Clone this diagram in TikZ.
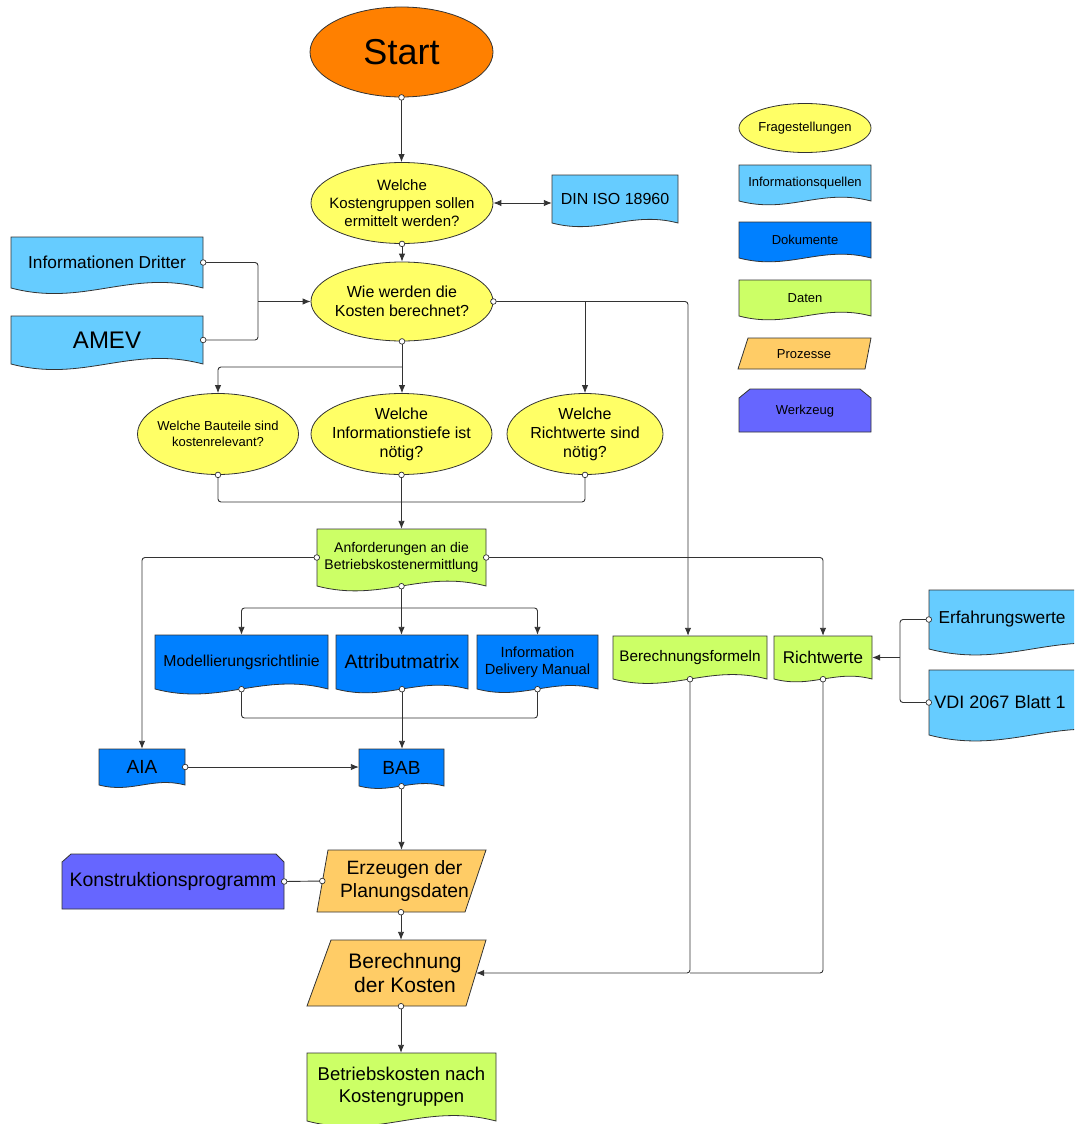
\documentclass[tikz,border=0pt]{standalone}
\usepackage{fontspec}
\setmainfont{Liberation Sans}
\usetikzlibrary{shapes.geometric,arrows.meta,calc}

\definecolor{cStart}{HTML}{FF8000}
\definecolor{cQ}{HTML}{FFFF66}
\definecolor{cInfo}{HTML}{66CCFF}
\definecolor{cDok}{HTML}{0080FF}
\definecolor{cDat}{HTML}{CCFF66}
\definecolor{cProz}{HTML}{FFCC66}
\definecolor{cWerk}{HTML}{6666FF}
\definecolor{cLine}{HTML}{333333}

\newcommand\fs[1]{\pgfmathsetmacro\mybls{#1*1.18}\fontsize{#1}{\mybls}\selectfont}

\tikzset{
  outl/.style={draw=cLine, line width=0.8pt},
  txt/.style={draw=none, inner sep=0pt, align=center, text=black},
  qell/.style={ellipse, outl, fill=cQ, inner xsep=-40pt, inner ysep=-20pt, align=center, text=black},
  conn/.style={draw=cLine, line width=0.9pt, rounded corners=3pt},
  arr/.style={-{Latex[length=8pt,width=6.5pt]}},
  dbl/.style={{Latex[length=8pt,width=6.5pt]}-{Latex[length=8pt,width=6.5pt]}},
}

% document shape: name, x0, y0, x1, b, fill, fontsize, text
\newcommand\docnode[8]{%
  \pgfmathsetmacro\dw{#4-#2}%
  \pgfmathsetmacro\dh{#5-#3}%
  \pgfmathsetmacro\da{0.1*\dw}%
  \draw[outl, fill=#6] (#2,#3) -- (#4,#3) -- (#4,#5)
     .. controls ({#2+0.62*\dw},{#5-\da}) and ({#2+0.38*\dw},{#5+\da}) .. (#2,#5) -- cycle;
  \node[txt, font=\fs{#7}, minimum width=\dw pt, minimum height=\dh pt] (#1) at ({(#2+#4)/2},{(#3+#5)/2}) {#8};
}
\newcommand\dotat[1]{\draw[draw=cLine, fill=white, line width=0.7pt] (#1) circle (2.8pt);}

\begin{document}
\begin{tikzpicture}[x=1pt,y=-1pt]
\useasboundingbox (0,0) rectangle (1074,1124);
\clip (0,0) rectangle (1074,1124);

% ---------- legend ----------
\node[qell, minimum width=132pt, minimum height=49pt, font=\fs{13}] (lq) at (805,128) {Fragestellungen};
\docnode{li}{739}{165}{871}{201}{cInfo}{13}{Informationsquellen}
\docnode{ld}{739}{222}{871}{258}{cDok}{13}{Dokumente}
\docnode{lda}{739}{280}{871}{316}{cDat}{13}{Daten}
\draw[outl, fill=cProz] (748,338) -- (871,338) -- (865,369) -- (738,369) -- cycle;
\node[txt, font=\fs{13}] (lp) at (804,354) {Prozesse};
\draw[outl, fill=cWerk] (739,398) -- (750,389) -- (860,389) -- (871,398) -- (871,432) -- (739,432) -- cycle;
\node[txt, font=\fs{13}] (lw) at (805,411) {Werkzeug};

% ---------- main nodes ----------
\node[ellipse, outl, fill=cStart, minimum width=183pt, minimum height=90pt, inner sep=0pt, font=\fs{36}] (start) at (401.5,52) {Start};

\node[qell, minimum width=182pt, minimum height=81pt, font=\fs{15}] (q1) at (402,203) {Welche\\Kostengruppen sollen\\ermittelt werden?};
\docnode{din}{552}{175}{678}{223}{cInfo}{16}{DIN ISO 18960}

\node[qell, minimum width=182pt, minimum height=79pt, font=\fs{16}] (q2) at (402,301.5) {Wie werden die\\Kosten berechnet?};
\docnode{infod}{11}{237}{203}{288}{cInfo}{17.3}{Informationen Dritter}
\docnode{amev}{11}{316}{203}{364}{cInfo}{24}{AMEV}

\node[qell, minimum width=161pt, minimum height=81pt, font=\fs{13}] (q3) at (218,434) {Welche Bauteile sind\\kostenrelevant?};
\node[qell, minimum width=181pt, minimum height=81pt, font=\fs{16}] (q4) at (401.5,434) {Welche\\Informationstiefe ist\\nötig?};
\node[qell, minimum width=156pt, minimum height=81pt, font=\fs{16}] (q5) at (585,434) {Welche\\Richtwerte sind\\nötig?};

\docnode{anf}{317}{529}{486}{586}{cDat}{14}{Anforderungen an die\\Betriebskostenermittlung}

\docnode{mod}{155}{635}{328}{689}{cDok}{15.8}{Modellierungsrichtlinie}
\docnode{attr}{336}{635}{468}{689}{cDok}{19.5}{Attributmatrix}
\docnode{idm}{477}{635}{598}{689}{cDok}{14.7}{Information\\Delivery Manual}

\docnode{berf}{613}{636}{767}{679}{cDat}{15.3}{Berechnungsformeln}
\docnode{rw}{774}{636}{872}{679}{cDat}{17}{Richtwerte}
\docnode{erf}{929}{590}{1135}{649}{cInfo}{17.3}{\hspace*{-60pt}Erfahrungswerte}
\docnode{vdi}{929}{670}{1135}{735}{cInfo}{18}{\hspace*{-64pt}VDI 2067 Blatt 1}

\docnode{aia}{99}{749}{185}{785}{cDok}{19}{AIA}
\docnode{bab}{359}{749}{444}{786}{cDok}{19}{BAB}

\draw[outl, fill=cWerk] (62,862) -- (71,854) -- (276,854) -- (284,862) -- (284,909) -- (62,909) -- cycle;
\node[txt, minimum width=222pt, minimum height=55pt, font=\fs{19.5}] (kp) at (173,881.5) {Konstruktionsprogramm};

\draw[outl, fill=cProz] (328,850) -- (486,850) -- (465,912) -- (317,912) -- cycle;
\node[txt, minimum width=157pt, minimum height=62pt, font=\fs{19.3}] (erz) at (401,881) {\hspace*{7pt}Erzeugen der\\\hspace*{7pt}Planungsdaten};

\draw[outl, fill=cProz] (331,940) -- (486,940) -- (466,1006) -- (307,1006) -- cycle;
\node[txt, minimum width=150pt, minimum height=66pt, font=\fs{21}] (ber) at (401,973) {\hspace*{8pt}Berechnung\\\hspace*{8pt}der Kosten};

\docnode{bk}{307}{1053}{496}{1121}{cDat}{18.5}{Betriebskosten nach\\Kostengruppen}

% ---------- junction coordinates ----------
\coordinate (j1) at (258,0);
\coordinate (j2) at (688,0);
\coordinate (j3) at (0,367);
\coordinate (j4) at (0,502);
\coordinate (j5) at (0,608);
\coordinate (j6) at (0,718);
\coordinate (j7) at (900,0);

% ---------- connectors ----------
\draw[conn, arr] (start.south) -- (start.south |- q1.north);
\draw[conn, dbl] (q1.east) -- (q1.east -| din.west);
\draw[conn, arr] (q1.south) -- (q1.south |- q2.north);

\draw[conn] (infod.east) -| (j1 |- q2.west);
\draw[conn] (amev.east) -| (j1 |- q2.west);
\draw[conn, arr] (j1 |- q2.west) -- (q2.west);

\draw[conn, arr] (q2.east) -| (j2 |- berf.north);
\draw[conn, arr] (q2.east -| q5.north) -- (q5.north);
\draw[conn, arr] (q2.south) -- (q2.south |- q4.north);
\draw[conn, arr] (q2.south |- j3) -| (q3.north);

\draw[conn] (q3.south) |- (q4.south |- j4);
\draw[conn] (q5.south) |- (q4.south |- j4);
\draw[conn, arr] (q4.south) -- (q4.south |- anf.north);

\draw[conn, arr] (anf.west) -| (aia.north);
\draw[conn, arr] (anf.east) -| (rw.north);
\draw[conn, arr] (anf.south) -- (anf.south |- attr.north);
\draw[conn, arr] (anf.south |- j5) -| (mod.north);
\draw[conn, arr] (anf.south |- j5) -| (idm.north);

\draw[conn] (mod.south) |- (attr.south |- j6);
\draw[conn] (idm.south) |- (attr.south |- j6);
\draw[conn, arr] (attr.south) -- (attr.south |- bab.north);

\draw[conn, arr] (aia.east) -- (aia.east -| bab.west);
\draw[conn, arr] (bab.south) -- (bab.south |- erz.north);
\draw[conn] (kp.east) -- (erz.west);
\draw[conn, arr] (erz.south) -- (erz.south |- ber.north);

\draw[conn, arr] (berf.south) |- (ber.east);
\draw[conn] (rw.south) |- (berf.south |- ber.east);
\draw[conn, arr] (ber.south) -- (ber.south |- bk.north);

\draw[conn] (erf.west) -| (j7 |- rw.east);
\draw[conn] (vdi.west) -| (j7 |- rw.east);
\draw[conn, arr] (j7 |- rw.east) -- (rw.east);

% ---------- connector end circles ----------
\foreach \p in {start.south, q1.south, infod.east, amev.east, q2.east, q2.south,
  q3.south, q4.south, q5.south, anf.west, anf.east, anf.south,
  mod.south, attr.south, idm.south, aia.east, bab.south, kp.east, erz.west,
  erz.south, berf.south, rw.south, ber.south, erf.west, vdi.west}
  {\dotat{\p}}
\end{tikzpicture}
\end{document}
